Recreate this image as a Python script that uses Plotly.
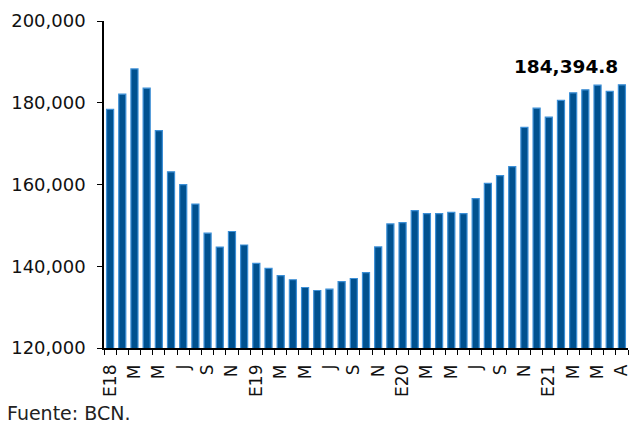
import plotly.graph_objects as go

# Monthly series, January 2018 through July 2021
months = [f"{y}-{m:02d}" for y in (2018, 2019, 2020) for m in range(1, 13)] + \
         [f"2021-{m:02d}" for m in range(1, 8)]

values = [
    178360, 182100, 188280, 183560, 173200, 163100, 159950, 155200, 148100, 144700, 148500, 145200,
    140700, 139500, 137730, 136700, 134800, 134070, 134400, 136260, 137000, 138460, 144740, 150350,
    150670, 153600, 152870, 152870, 153200, 152870, 156530, 160290, 162150, 164350, 173970, 178680,
    176480, 180560, 182420, 183150, 184300, 182760, 184394.8,
]

tick_labels = [
    "E18", "", "M", "", "M", "", "J", "", "S", "", "N", "",
    "E19", "", "M", "", "M", "", "J", "", "S", "", "N", "",
    "E20", "", "M", "", "M", "", "J", "", "S", "", "N", "",
    "E21", "", "M", "", "M", "", "A",
]

FONT = "DejaVu Sans"

fig = go.Figure(
    go.Bar(
        x=months,
        y=values,
        marker=dict(color="#00518F", line=dict(color="#3C8FD6", width=1.2)),
        hoverinfo="x+y",
    )
)

fig.add_annotation(
    x=months[-1], y=values[-1],
    text=f"<b>{values[-1]:,.1f}</b>",
    showarrow=False, xanchor="right", yanchor="bottom",
    xshift=-2, yshift=6,
    font=dict(family=FONT, size=18.5, color="#000"),
)

fig.add_annotation(
    xref="paper", yref="paper", x=-0.188, y=-0.2,
    text="Fuente: BCN.", showarrow=False,
    xanchor="left", yanchor="middle",
    font=dict(family=FONT, size=19, color="#222"),
)

fig.update_layout(
    width=635, height=431,
    margin=dict(l=104, r=4, t=21, b=83),
    paper_bgcolor="white", plot_bgcolor="white",
    bargap=0.42,
    showlegend=False,
    font=dict(family=FONT, size=18, color="#111"),
    xaxis=dict(
        type="category",
        tickmode="array", tickvals=months, ticktext=tick_labels,
        tickson="boundaries", ticks="outside", ticklen=5, tickcolor="#000",
        tickangle=-90, ticklabelstandoff=8,
        showline=True, linecolor="#000", linewidth=1.5,
        showgrid=False,
        tickfont=dict(family=FONT, size=17, color="#111"),
    ),
    yaxis=dict(
        range=[120000, 200000], dtick=20000, tickformat=",d",
        ticks="outside", ticklen=5, tickcolor="#000",
        ticklabelstandoff=8,
        showline=True, linecolor="#000", linewidth=1.5,
        showgrid=False, zeroline=False,
        tickfont=dict(family=FONT, size=18, color="#111"),
    ),
)

fig.write_html("out.html")
